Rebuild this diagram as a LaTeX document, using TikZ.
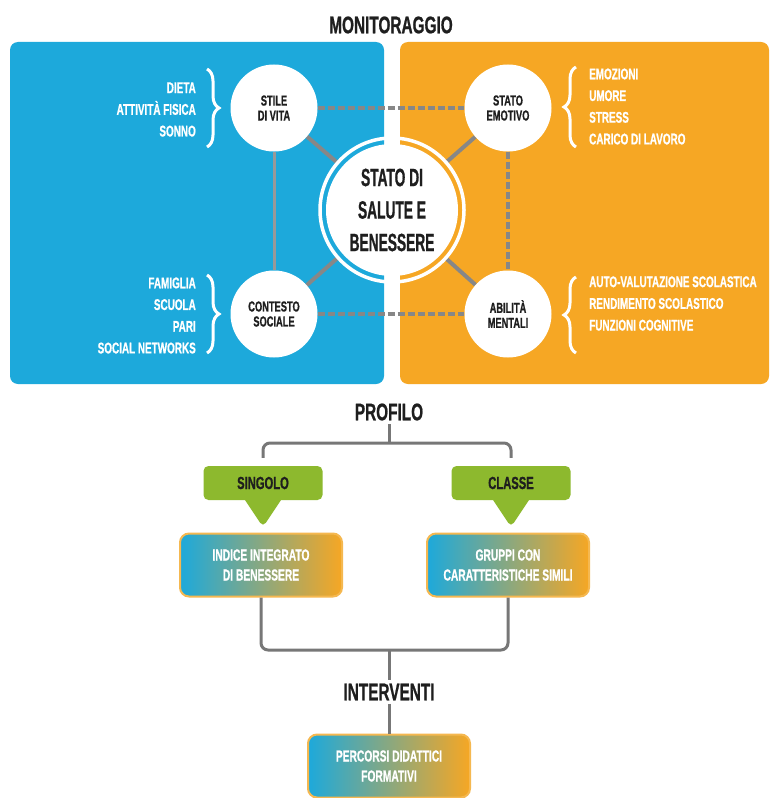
\documentclass[tikz,border=0pt]{standalone}
\usepackage{fontspec}
\newfontfamily\fa{Liberation Sans}[FakeStretch=0.64, BoldFeatures={FakeBold=0.8}]
\newfontfamily\fb{Liberation Sans}[FakeStretch=0.55, BoldFeatures={FakeBold=0.8}]
\usetikzlibrary{shapes.callouts,decorations.pathreplacing}
\definecolor{pblue}{HTML}{1DA9DB}
\definecolor{porange}{HTML}{F6A724}
\definecolor{pgreen}{HTML}{8DB92E}
\definecolor{lgray}{HTML}{878787}
\definecolor{fgray}{HTML}{777777}
\definecolor{ink}{HTML}{1E1E1E}
\definecolor{gborder}{HTML}{F5B850}
\pgfdeclarelayer{panel}
\pgfdeclarelayer{links}
\pgfsetlayers{panel,links,main}
\tikzset{
 titletext/.style={font=\fa\bfseries\fontsize{24bp}{26bp}\selectfont, text=ink},
 bubble/.style={circle, fill=white, minimum size=87bp, inner sep=0pt, align=center, text=ink, font=\fa\bfseries\fontsize{14.5bp}{15bp}\selectfont},
 hub/.style={circle, fill=white, minimum size=132bp, inner sep=0pt, outer sep=7.5bp, align=center, text=ink, font=\fb\bfseries\fontsize{25bp}{32.5bp}\selectfont},
 items/.style={text=white, font=\fa\bfseries\fontsize{15.5bp}{21.7bp}\selectfont, inner sep=0pt},
 solidlink/.style={draw=lgray, line width=4bp},
 dashlink/.style={draw=lgray, line width=3.5bp, dash pattern=on 7bp off 3bp},
 bracelink/.style={draw=white, line width=3bp, decorate, decoration={brace, amplitude=12bp}},
 tag/.style={rectangle callout, fill=pgreen, rounded corners=5bp, minimum width=119bp, minimum height=34bp, callout pointer width=36bp, text=ink, font=\fa\bfseries\fontsize{17.5bp}{19bp}\selectfont},
 gradbox/.style={rounded corners=9bp, left color=pblue, right color=porange, draw=gborder, line width=2bp, minimum width=162bp, minimum height=63bp, align=center, text=white, font=\fa\bfseries\fontsize{16bp}{20bp}\selectfont},
 flowline/.style={draw=fgray, line width=3bp, rounded corners=7bp},
}
\begin{document}
\begin{tikzpicture}[x=1bp,y=-1bp]
\useasboundingbox (0,0) rectangle (771,798);
\begin{pgfonlayer}{panel}
\fill[white] (0,0) rectangle (771,798);
\fill[pblue, rounded corners=8bp] (10,42) rectangle (384,384);
\fill[porange, rounded corners=8bp] (400,42) rectangle (769,384);
\end{pgfonlayer}

% title
\node[titletext] (monit) at (391,25) {MONITORAGGIO};

% circles
\node[hub] (centro) at (392,210) {STATO DI\\SALUTE E\\BENESSERE};
\draw[white, line width=3.5bp] (centro.center) circle[radius=72bp];
\node[bubble] (stile) at (274,108) {STILE\\DI VITA};
\node[bubble] (emotivo) at (508,108) {STATO\\EMOTIVO};
\node[bubble] (contesto) at (274,314) {CONTESTO\\SOCIALE};
\node[bubble] (abilita) at (508,314) {ABILITÀ\\MENTALI};

\begin{pgfonlayer}{links}
\draw[solidlink] (stile) -- (centro);
\draw[solidlink] (emotivo) -- (centro);
\draw[solidlink] (contesto) -- (centro);
\draw[solidlink] (abilita) -- (centro);
\draw[solidlink, line width=3bp, draw=lgray!85] (stile) -- (contesto);
\draw[dashlink] (emotivo) -- (abilita);
\draw[dashlink] (stile) -- (emotivo);
\draw[dashlink] (contesto) -- (abilita);
\end{pgfonlayer}

% braces
\draw[bracelink] (207,69) -- (207,147);
\draw[bracelink] (207,275) -- (207,353);
\draw[bracelink] (576,147) -- (576,67);
\draw[bracelink] (576,353) -- (576,277);

% item lists
\node[items, anchor=east, align=right] (lvita) at (196,109.5) {DIETA\\ATTIVITÀ FISICA\\SONNO};
\node[items, anchor=east, align=right] (lsoc) at (196,315.5) {FAMIGLIA\\SCUOLA\\PARI\\SOCIAL NETWORKS};
\node[items, anchor=west, align=left] (remo) at (589,106.5) {EMOZIONI\\UMORE\\STRESS\\CARICO DI LAVORO};
\node[items, anchor=west, align=left] (rment) at (589,303.5) {AUTO-VALUTAZIONE SCOLASTICA\\RENDIMENTO SCOLASTICO\\FUNZIONI COGNITIVE};

% lower part
\node[titletext] (profilo) at (389,412) {PROFILO};
\node[tag, callout absolute pointer={(263,527)}] (singolo) at (263,483) {SINGOLO};
\node[tag, callout absolute pointer={(511,527)}] (classe) at (511,483) {CLASSE};
\node[gradbox] (indice) at (261,565) {INDICE INTEGRATO\\DI BENESSERE};
\node[gradbox] (gruppi) at (508,565) {GRUPPI CON\\CARATTERISTICHE SIMILI};
\node[titletext] (interventi) at (389,692) {INTERVENTI};
\node[gradbox] (percorsi) at (389,766) {PERCORSI DIDATTICI\\FORMATIVI};

\coordinate (fork) at (389,443);
\coordinate (join) at (389,650);
\draw[flowline] (profilo) -- (fork);
\draw[flowline, shorten <=8bp, shorten >=8bp] (singolo.north) |- (fork) -| (classe.north);
\draw[flowline] (indice.south) |- (join) -| (gruppi.south);
\draw[flowline] (join) -- (interventi);
\draw[flowline] (interventi) -- (percorsi);
\end{tikzpicture}
\end{document}
